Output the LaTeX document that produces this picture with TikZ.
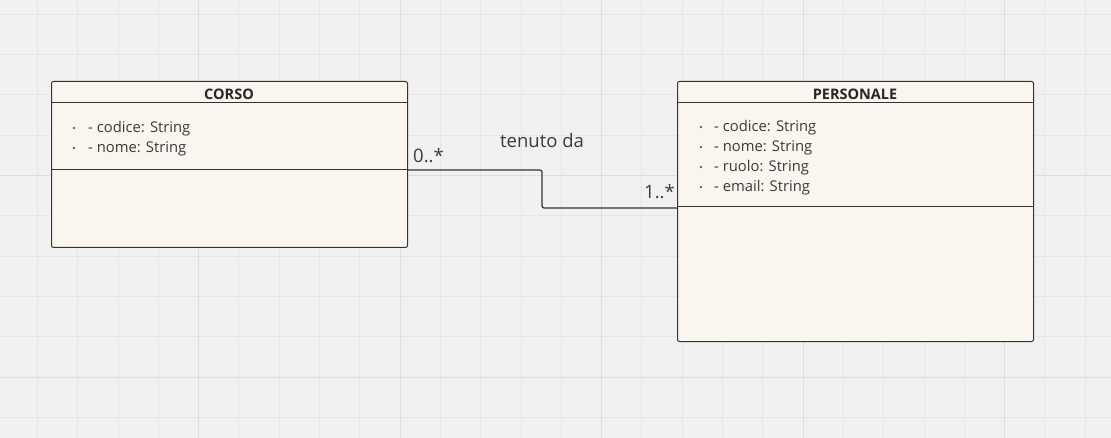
\documentclass[tikz,border=0pt]{standalone}
\usepackage{fontspec}
\setmainfont{Open Sans}
\definecolor{bg}{HTML}{F1F1F1}
\definecolor{gridminor}{HTML}{E6E6E6}
\definecolor{gridmajor}{HTML}{DDDDDD}
\definecolor{boxfill}{HTML}{FAF6EF}
\definecolor{boxline}{HTML}{333333}
\definecolor{txt}{HTML}{3A3A3A}
\begin{document}
\begin{tikzpicture}[x=1pt,y=-1pt,
  classbox/.style={draw=boxline, fill=boxfill, line width=1pt, rounded corners=2pt, inner sep=0pt, anchor=north west},
  divider/.style={draw=boxline, line width=1pt},
  title/.style={font=\fontsize{14.5}{17}\selectfont\bfseries, text=black!85, inner sep=0pt, anchor=base},
  attr/.style={font=\fontsize{14.8}{18}\selectfont, text=txt, inner sep=0pt, anchor=base west},
  bul/.style={fill=txt},
  conn/.style={draw=boxline, line width=1.2pt, rounded corners=2pt},
  lbl/.style={font=\fontsize{18.5}{21}\selectfont, text=txt, inner sep=0pt}
]
\useasboundingbox (0,0) rectangle (1111,438);
\fill[bg] (0,0) rectangle (1111,438);
% grid
\foreach \i in {0,...,27} {
  \draw[gridminor, line width=0.8pt] ({37.3+40.3*\i},0) -- ({37.3+40.3*\i},438);
}
\foreach \i in {0,...,10} {
  \draw[gridminor, line width=0.8pt] (0,{14.3+40.3*\i}) -- (1111,{14.3+40.3*\i});
}
\foreach \i in {0,...,4} {
  \draw[gridmajor, line width=1pt] ({198.5+201.5*\i},0) -- ({198.5+201.5*\i},438);
}
\foreach \y in {175.5,377} {
  \draw[gridmajor, line width=1pt] (0,\y) -- (1111,\y);
}
% CORSO
\node[classbox, minimum width=356pt, minimum height=166pt] (corso) at (51,81) {};
\draw[divider] ([yshift=-22pt]corso.north west) -- ([yshift=-22pt]corso.north east);
\draw[divider] ([yshift=-89pt]corso.north west) -- ([yshift=-89pt]corso.north east);
\node[title] (corsotitle) at (229,100) {CORSO};
\foreach \t [count=\k] in {codice,nome} {
  \node[attr] (ca\k) at (88,{113+20*\k}) {- \t: String};
  \fill[bul] (74,{108+20*\k}) circle (1.1pt);
}
% PERSONALE
\node[classbox, minimum width=356pt, minimum height=260pt] (personale) at (677,81) {};
\draw[divider] ([yshift=-22pt]personale.north west) -- ([yshift=-22pt]personale.north east);
\draw[divider] ([yshift=-126pt]personale.north west) -- ([yshift=-126pt]personale.north east);
\node[title] (perstitle) at (855,100) {PERSONALE};
\foreach \t [count=\k] in {codice,nome,ruolo,email} {
  \node[attr] (pa\k) at (714,{112+20*\k}) {- \t: String};
  \fill[bul] (701,{107+20*\k}) circle (1.1pt);
}
% connector
\coordinate (bend) at (542,170);
\draw[conn] (corso.east |- bend) -- (bend) -- (542,208) -- (personale.west |- 0,208);
\node[lbl, anchor=base west] (m1) at (413,163) {0..*};
\node[lbl, anchor=base] (assoc) at (542,148) {tenuto da};
\node[lbl, anchor=base east] (m2) at (675,199) {1..*};
\end{tikzpicture}
\end{document}
